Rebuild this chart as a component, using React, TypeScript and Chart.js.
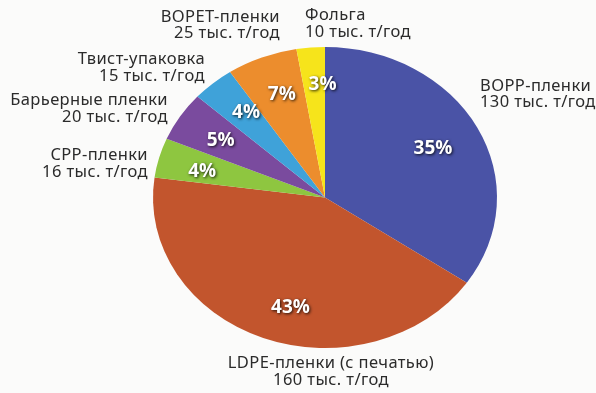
import React, { useEffect, useRef } from "react";
import { Chart, registerables } from "chart.js";

Chart.register(...registerables);

const categories = [
  "BOPP-пленки",
  "LDPE-пленки (с печатью)",
  "CPP-пленки",
  "Барьерные пленки",
  "Твист-упаковка",
  "BOPET-пленки",
  "Фольга",
];
const volumes = [130, 160, 16, 20, 15, 25, 10];
const volumeLabels = [
  "130 тыс. т/год",
  "160 тыс. т/год",
  "16 тыс. т/год",
  "20 тыс. т/год",
  "15 тыс. т/год",
  "25 тыс. т/год",
  "10 тыс. т/год",
];
const percentLabels = ["35%", "43%", "4%", "5%", "4%", "7%", "3%"];
const colors = ["#4a53a6", "#c2552d", "#8ec640", "#7a4b9e", "#3fa2d9", "#ec8d2d", "#f6e41b"];

// outside label anchors: [x, baseline y of first line, align]
const labelLayout: [number, number, CanvasTextAlign][] = [
  [480, 90.5, "left"],
  [331, 368, "center"],
  [148, 160, "right"],
  [168, 105, "right"],
  [205, 64, "right"],
  [280, 21.5, "right"],
  [305, 20, "left"],
];
const percentRadius = [0.69, 0.72, 0.74, 0.74, 0.74, 0.74, 0.76];
const percentShift: [number, number][] = [
  [3, -1],
  [10, 9],
  [0, 4],
  [3, 3],
  [4, 0],
  [3.5, 0.5],
  [8.5, 1],
];
const Y_SCALE = 0.875;

const ellipsePlugin = {
  id: "ellipse",
  beforeDatasetsDraw(chart: any) {
    const arc = chart.getDatasetMeta(0).data[0];
    const ctx = chart.ctx;
    ctx.save();
    ctx.translate(arc.x, arc.y);
    ctx.scale(1, Y_SCALE);
    ctx.translate(-arc.x, -arc.y);
  },
  afterDatasetsDraw(chart: any) {
    chart.ctx.restore();
  },
  afterDraw(chart: any) {
    const ctx = chart.ctx;
    const meta = chart.getDatasetMeta(0);
    meta.data.forEach((arc: any, i: number) => {
      const p = arc.getProps(["x", "y", "startAngle", "endAngle", "outerRadius"], true);
      const mid = (p.startAngle + p.endAngle) / 2;
      const r = p.outerRadius * percentRadius[i];
      const x = p.x + Math.cos(mid) * r + percentShift[i][0];
      const y = p.y + Math.sin(mid) * r * Y_SCALE + percentShift[i][1];
      ctx.save();
      ctx.font = "bold 19px 'Open Sans', 'Liberation Sans', sans-serif";
      ctx.textAlign = "center";
      ctx.textBaseline = "middle";
      ctx.shadowColor = "rgba(0,0,0,0.85)";
      ctx.shadowBlur = 3;
      ctx.shadowOffsetX = 1;
      ctx.shadowOffsetY = 1;
      ctx.fillStyle = "#ffffff";
      ctx.fillText(percentLabels[i], x, y);
      ctx.restore();
    });
    ctx.save();
    ctx.font = "16.5px 'Noto Sans', 'Open Sans', sans-serif";
    try {
      (ctx as any).letterSpacing = "0.4px";
    } catch (e) {}
    ctx.fillStyle = "#2b2b2b";
    ctx.textBaseline = "alphabetic";
    categories.forEach((c, i) => {
      const [x, y, align] = labelLayout[i];
      ctx.textAlign = align;
      ctx.fillText(c, x, y);
      ctx.fillText(volumeLabels[i], x, y + 16.7);
    });
    ctx.restore();
  },
};

export default function App() {
  const ref = useRef<HTMLCanvasElement | null>(null);
  useEffect(() => {
    if (!ref.current) return;
    const chart = new Chart(ref.current, {
      type: "pie",
      data: {
        labels: categories,
        datasets: [
          {
            data: volumes,
            backgroundColor: colors,
            borderWidth: 0,
          },
        ],
      },
      options: {
        animation: false,
        responsive: false,
        layout: { padding: { left: 153, right: 99, top: 25.5, bottom: 23.5 } },
        plugins: { legend: { display: false }, tooltip: { enabled: false } },
      },
      plugins: [ellipsePlugin],
    });
    return () => chart.destroy();
  }, []);
  return (
    <div style={{ position: "absolute", left: 0, top: 0, width: 596, height: 393, background: "#fbfbfa" }}>
      <canvas ref={ref} width={596} height={393} style={{ width: 596, height: 393 }} />
    </div>
  );
}
